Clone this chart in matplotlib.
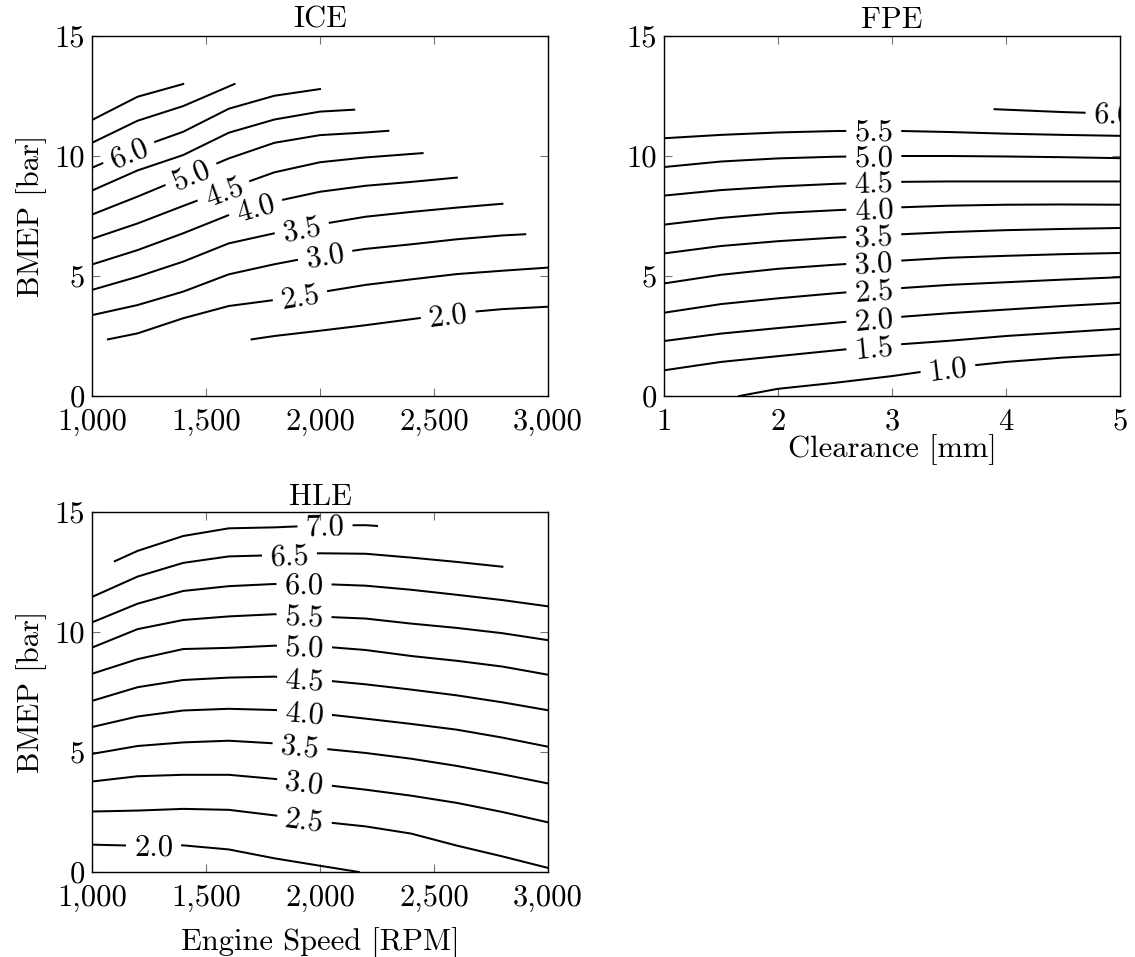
import numpy as np
import matplotlib
matplotlib.use("Agg")
import matplotlib.pyplot as plt

# ---------------- ICE: efficiency contours over engine speed / BMEP ----------------
ice_rpm_70 = [1000, 1200, 1400]
ice_bmep_70 = [11.5, 12.47, 13.0]
ice_rpm_65 = [1000, 1200, 1400, 1625]
ice_bmep_65 = [10.55, 11.47, 12.08, 13.0]
ice_rpm_60 = [1000, 1200, 1400, 1600, 1800, 2000]
ice_bmep_60 = [9.51, 10.33, 11.01, 11.97, 12.51, 12.79]
ice_rpm_55 = [1000, 1200, 1400, 1600, 1800, 2000, 2150]
ice_bmep_55 = [8.56, 9.4, 10.04, 10.97, 11.52, 11.85, 11.93]
ice_rpm_50 = [1000, 1200, 1400, 1600, 1800, 2000, 2200, 2300]
ice_bmep_50 = [7.56, 8.31, 9.1, 9.9, 10.55, 10.87, 10.98, 11.05]
ice_rpm_45 = [1000, 1200, 1400, 1600, 1800, 2000, 2200, 2450]
ice_bmep_45 = [6.55, 7.19, 7.92, 8.64, 9.32, 9.74, 9.94, 10.12]
ice_rpm_40 = [1000, 1200, 1400, 1600, 1800, 2000, 2200, 2400, 2600]
ice_bmep_40 = [5.48, 6.08, 6.78, 7.54, 8.1, 8.51, 8.76, 8.92, 9.1]
ice_rpm_35 = [1000, 1200, 1400, 1600, 1800, 2000, 2200, 2400, 2600, 2800]
ice_bmep_35 = [4.42, 4.97, 5.6, 6.36, 6.78, 7.15, 7.47, 7.67, 7.85, 8.01]
ice_rpm_30 = [1000, 1200, 1400, 1600, 1800, 2000, 2200, 2400, 2600, 2800, 2900]
ice_bmep_30 = [3.37, 3.79, 4.35, 5.07, 5.49, 5.85, 6.13, 6.32, 6.53, 6.69, 6.74]
ice_rpm_25 = [1070, 1200, 1400, 1600, 1800, 2000, 2200, 2400, 2600, 2800, 3000]
ice_bmep_25 = [2.36, 2.61, 3.24, 3.75, 4.0, 4.32, 4.63, 4.86, 5.08, 5.22, 5.35]
ice_rpm_20 = [1700, 1800, 2000, 2200, 2400, 2600, 2800, 3000]
ice_bmep_20 = [2.36, 2.5, 2.72, 2.95, 3.2, 3.45, 3.62, 3.72]

ice_levels = [7.0, 6.5, 6.0, 5.5, 5.0, 4.5, 4.0, 3.5, 3.0, 2.5, 2.0]
ice_label_rpm = [None, None, 1160, None, 1434, 1576, 1717, 1920, 2022, 1912, 2562]

# ---------------- FPE: efficiency contours over clearance / BMEP ----------------
fpe_gap = [1.0, 1.5, 2.0, 2.5, 3.0, 3.5, 4.0, 4.5, 5.0]
fpe_bmep_55 = [10.74, 10.88, 10.98, 11.04, 11.05, 11.0, 10.93, 10.88, 10.84]
fpe_bmep_50 = [9.54, 9.77, 9.9, 9.97, 10.0, 10.0, 9.98, 9.95, 9.91]
fpe_bmep_45 = [8.35, 8.58, 8.73, 8.84, 8.92, 8.94, 8.94, 8.94, 8.94]
fpe_bmep_40 = [7.14, 7.42, 7.62, 7.74, 7.85, 7.93, 7.97, 7.98, 7.97]
fpe_bmep_35 = [5.94, 6.25, 6.45, 6.6, 6.72, 6.83, 6.91, 6.96, 7.0]
fpe_bmep_30 = [4.69, 5.05, 5.3, 5.47, 5.62, 5.76, 5.84, 5.91, 5.96]
fpe_bmep_25 = [3.47, 3.83, 4.07, 4.28, 4.47, 4.63, 4.74, 4.85, 4.95]
fpe_bmep_20 = [2.29, 2.6, 2.83, 3.05, 3.27, 3.45, 3.6, 3.75, 3.88]
fpe_bmep_15 = [1.07, 1.42, 1.66, 1.9, 2.13, 2.3, 2.5, 2.65, 2.8]
fpe_gap_10 = [1.66, 2.0, 2.5, 3.0, 3.5, 4.0, 4.5, 5.0]
fpe_bmep_10 = [0.0, 0.3, 0.55, 0.83, 1.17, 1.42, 1.6, 1.73]
fpe_gap_60 = [3.9, 4.5, 5.0]
fpe_bmep_60 = [11.95, 11.83, 11.76]

fpe_levels = [6.0, 5.5, 5.0, 4.5, 4.0, 3.5, 3.0, 2.5, 2.0, 1.5, 1.0]
fpe_label_gap = [4.94, 2.84, 2.84, 2.84, 2.84, 2.84, 2.84, 2.84, 2.84, 2.84, 3.49]

# ---------------- HLE: efficiency contours over engine speed / BMEP ----------------
hle_rpm = [1000, 1200, 1400, 1600, 1800, 2000, 2200, 2400, 2600, 2800, 3000]
hle_rpm_70 = [1100, 1200, 1400, 1600, 1800, 2000, 2200, 2250]
hle_bmep_70 = [12.95, 13.38, 14.0, 14.32, 14.36, 14.44, 14.45, 14.42]
hle_rpm_65 = [1000, 1200, 1400, 1600, 1800, 2000, 2200, 2400, 2600, 2800]
hle_bmep_65 = [11.46, 12.31, 12.88, 13.15, 13.2, 13.28, 13.26, 13.1, 12.92, 12.72]
hle_bmep_60 = [10.4, 11.18, 11.71, 11.91, 12.0, 12.0, 11.93, 11.76, 11.55, 11.33, 11.07]
hle_bmep_55 = [9.35, 10.12, 10.5, 10.65, 10.74, 10.64, 10.56, 10.35, 10.17, 9.95, 9.66]
hle_bmep_50 = [8.26, 8.87, 9.29, 9.34, 9.43, 9.4, 9.25, 9.0, 8.8, 8.56, 8.22]
hle_bmep_45 = [7.13, 7.7, 8.0, 8.1, 8.14, 8.0, 7.82, 7.6, 7.36, 7.07, 6.74]
hle_bmep_40 = [6.04, 6.48, 6.73, 6.8, 6.75, 6.6, 6.39, 6.17, 5.93, 5.6, 5.22]
hle_bmep_35 = [4.92, 5.25, 5.4, 5.47, 5.36, 5.15, 4.96, 4.72, 4.42, 4.07, 3.69]
hle_bmep_30 = [3.77, 3.99, 4.05, 4.05, 3.88, 3.65, 3.43, 3.18, 2.88, 2.5, 2.07]
hle_bmep_25 = [2.52, 2.56, 2.63, 2.59, 2.36, 2.1, 1.9, 1.6, 1.1, 0.65, 0.17]
hle_rpm_20 = [1000, 1170, 1400, 1600, 1800, 2000, 2170]
hle_bmep_20 = [1.14, 1.1, 1.11, 0.94, 0.57, 0.26, 0.0]

hle_levels = [7.0, 6.5, 6.0, 5.5, 5.0, 4.5, 4.0, 3.5, 3.0, 2.5, 2.0]
hle_label_rpm = [2022, 1866, 1930, 1930, 1932, 1932, 1932, 1912, 1932, 1932, 1270]

rpm_ticks = [1000, 1500, 2000, 2500, 3000]
gap_ticks = [1, 2, 3, 4, 5]
bmep_ticks = [0, 5, 10, 15]

# ---------------- styling ----------------
plt.rcParams['font.family'] = 'cmr10'
plt.rcParams['mathtext.fontset'] = 'cm'
plt.rcParams['axes.formatter.use_mathtext'] = True
FS = 22
LW = 1.45

W, H = 1135, 957
fig = plt.figure(figsize=(W / 100, H / 100), dpi=100)
renderer = fig.canvas.get_renderer()
# half the height of a digit, in pixels, used to centre contour labels on their line
DIGIT_HALF = 0.5 * 0.644 * FS * 100 / 72


def add_axes(left, top, right, bottom):
    return fig.add_axes([left / W, 1 - bottom / H, (right - left) / W, (bottom - top) / H])


def style_axes(ax, xlim, xticks, xlabels):
    ax.set_xlim(*xlim)
    ax.set_ylim(0, 15)
    ax.set_xticks(xticks)
    ax.set_xticklabels(xlabels)
    ax.set_yticks(bmep_ticks)
    ax.set_yticklabels([str(t) for t in bmep_ticks])
    ax.tick_params(direction='in', top=True, right=True, length=6, width=0.8,
                   color='0.45', labelsize=FS)
    ax.tick_params(axis='x', pad=9)
    ax.tick_params(axis='y', pad=5)
    for sp in ax.spines.values():
        sp.set_linewidth(1.0)


def draw_contour(ax, xs, ys, level, label_x, clip_label=False):
    xs = np.asarray(xs, float)
    ys = np.asarray(ys, float)
    if label_x is None:
        ax.plot(xs, ys, color='k', lw=LW, solid_joinstyle='round')
        return
    pts = ax.transData.transform(np.column_stack([xs, ys]))
    seg = np.hypot(*np.diff(pts, axis=0).T)
    s = np.concatenate([[0.0], np.cumsum(seg)])
    ly = float(np.interp(label_x, xs, ys))
    p0 = ax.transData.transform([label_x, ly])
    i = int(np.clip(np.searchsorted(xs, label_x) - 1, 0, len(xs) - 2))
    s0 = s[i] + np.hypot(*(p0 - pts[i]))

    txt = ax.text(label_x, ly, f"{level:.1f}", fontsize=FS, ha='center',
                  va='baseline', rotation_mode='anchor',
                  clip_on=clip_label, zorder=3)
    w = txt.get_window_extent(renderer).width
    g = w / 2 + 9

    def point_at(sv):
        return np.array([np.interp(sv, s, pts[:, 0]), np.interp(sv, s, pts[:, 1])])

    a = point_at(s0 - g)
    b = point_at(s0 + g)
    ang = np.arctan2(b[1] - a[1], b[0] - a[0])
    # drop the baseline below the line so the digits sit centred on it
    normal = np.array([np.sin(ang), -np.cos(ang)])
    anchor = p0 + normal * DIGIT_HALF
    inv = ax.transData.inverted()
    txt.set_position(inv.transform(anchor))
    txt.set_rotation(np.degrees(ang))

    parts = []
    if s0 - g > 0:
        parts.append(np.vstack([pts[s < s0 - g], a]))
    if s0 + g < s[-1]:
        parts.append(np.vstack([b, pts[s > s0 + g]]))
    for part in parts:
        if len(part) >= 2:
            d = inv.transform(part)
            ax.plot(d[:, 0], d[:, 1], color='k', lw=LW, solid_joinstyle='round')


ax_ice = add_axes(92, 36, 548, 396)
ax_fpe = add_axes(664, 36, 1120, 396)
ax_hle = add_axes(92, 512, 548, 872)

rpm_labels = [f"{t:,}" for t in rpm_ticks]
style_axes(ax_ice, (1000, 3000), rpm_ticks, rpm_labels)
style_axes(ax_fpe, (1, 5), gap_ticks, [str(t) for t in gap_ticks])
style_axes(ax_hle, (1000, 3000), rpm_ticks, rpm_labels)

# ICE
ice_x = [ice_rpm_70, ice_rpm_65, ice_rpm_60, ice_rpm_55, ice_rpm_50, ice_rpm_45,
         ice_rpm_40, ice_rpm_35, ice_rpm_30, ice_rpm_25, ice_rpm_20]
ice_y = [ice_bmep_70, ice_bmep_65, ice_bmep_60, ice_bmep_55, ice_bmep_50, ice_bmep_45,
         ice_bmep_40, ice_bmep_35, ice_bmep_30, ice_bmep_25, ice_bmep_20]
for xs, ys, lev, lx in zip(ice_x, ice_y, ice_levels, ice_label_rpm):
    draw_contour(ax_ice, xs, ys, lev, lx)

# FPE
fpe_x = [fpe_gap_60] + [fpe_gap] * 9 + [fpe_gap_10]
fpe_y = [fpe_bmep_60, fpe_bmep_55, fpe_bmep_50, fpe_bmep_45, fpe_bmep_40, fpe_bmep_35,
         fpe_bmep_30, fpe_bmep_25, fpe_bmep_20, fpe_bmep_15, fpe_bmep_10]
for xs, ys, lev, lx in zip(fpe_x, fpe_y, fpe_levels, fpe_label_gap):
    draw_contour(ax_fpe, xs, ys, lev, lx, clip_label=True)

# HLE
hle_x = [hle_rpm_70, hle_rpm_65] + [hle_rpm] * 8 + [hle_rpm_20]
hle_y = [hle_bmep_70, hle_bmep_65, hle_bmep_60, hle_bmep_55, hle_bmep_50, hle_bmep_45,
         hle_bmep_40, hle_bmep_35, hle_bmep_30, hle_bmep_25, hle_bmep_20]
for xs, ys, lev, lx in zip(hle_x, hle_y, hle_levels, hle_label_rpm):
    draw_contour(ax_hle, xs, ys, lev, lx)

ax_ice.set_title('ICE', fontsize=FS, pad=6)
ax_fpe.set_title('FPE', fontsize=FS, pad=6)
ax_hle.set_title('HLE', fontsize=FS, pad=5)
ax_ice.set_ylabel('BMEP [bar]', fontsize=FS, labelpad=5)
ax_hle.set_ylabel('BMEP [bar]', fontsize=FS, labelpad=5)
ax_fpe.set_xlabel('Clearance [mm]', fontsize=FS, labelpad=-1)
ax_hle.set_xlabel('Engine Speed [RPM]', fontsize=FS, labelpad=11)

fig.savefig('out.png', dpi=100)
